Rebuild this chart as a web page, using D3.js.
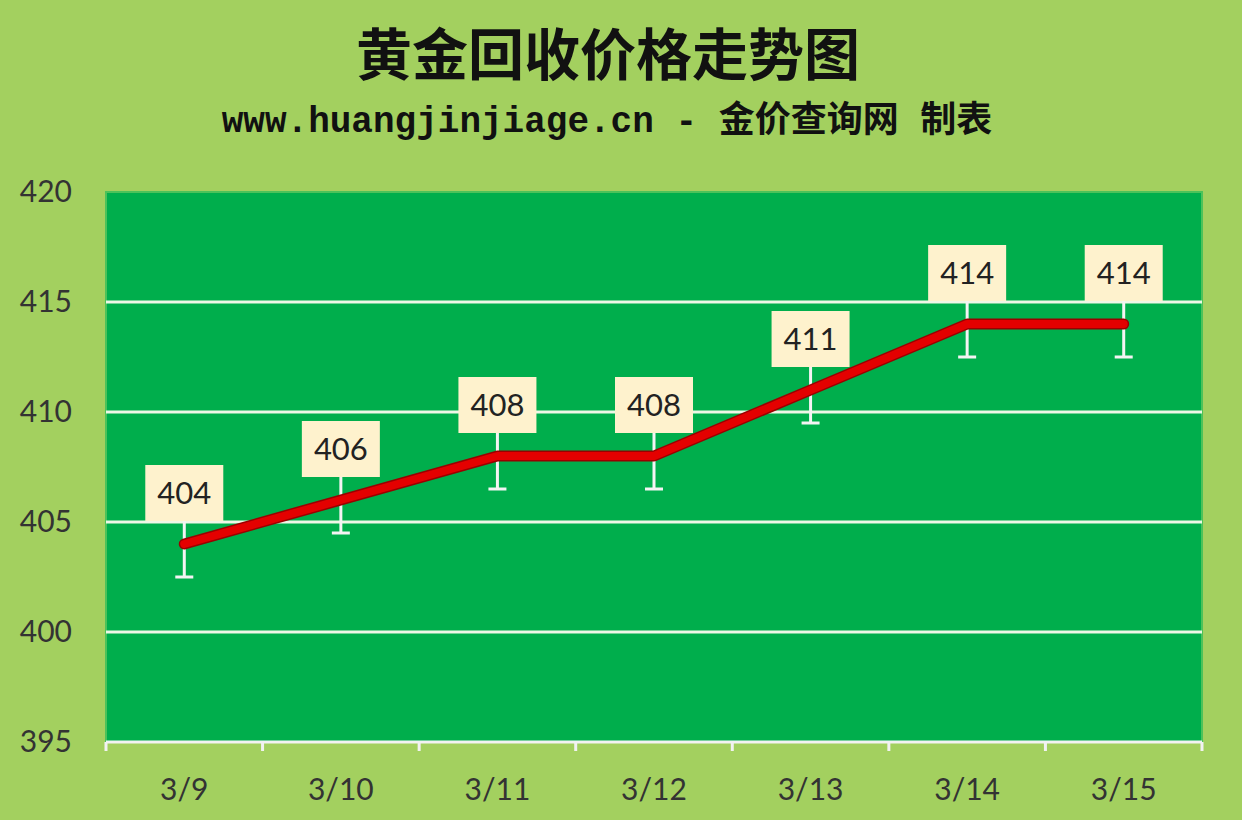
<!DOCTYPE html>
<html>
<head>
<meta charset="utf-8">
<script src="https://cdn.jsdelivr.net/npm/d3@7"></script>
<style>
  html, body { margin: 0; padding: 0; background: #a3d05f; }
  svg { display: block; }
</style>
</head>
<body>
<div id="chart"></div>
<script>
// chart data
const dates = ["3/9", "3/10", "3/11", "3/12", "3/13", "3/14", "3/15"];
const prices = [404, 406, 408, 408, 411, 414, 414];
const yTicks = [395, 400, 405, 410, 415, 420];
const errorAmount = 1.5;

const titleText = "黄金回收价格走势图";
const subtitleText = "www.huangjinjiage.cn - 金价查询网 制表";

const width = 1242, height = 820;
const margin = {top: 192, right: 40, bottom: 78, left: 106};

const svg = d3.select("#chart").append("svg")
    .attr("width", width)
    .attr("height", height);

svg.append("rect")
    .attr("width", width)
    .attr("height", height)
    .attr("fill", "#a3d05f");

// titles
svg.append("text")
    .attr("x", 608)
    .attr("y", 75)
    .attr("text-anchor", "middle")
    .attr("font-family", "'Noto Sans CJK SC', sans-serif")
    .attr("font-weight", "bold")
    .attr("font-size", 56)
    .attr("fill", "#111")
    .text(titleText);

svg.append("text")
    .attr("x", 607)
    .attr("y", 132)
    .attr("text-anchor", "middle")
    .attr("font-family", "'Liberation Mono', 'Noto Sans CJK SC', monospace")
    .attr("font-weight", "bold")
    .attr("font-size", 36)
    .attr("fill", "#111")
    .text(subtitleText);

// scales
let x = d3.scaleBand()
    .domain(dates)
    .range([margin.left, width - margin.right])
    .padding(0);

let y = d3.scaleLinear()
    .domain([395, 420])
    .range([height - margin.bottom, margin.top]);

// plot area
svg.append("rect")
    .attr("x", margin.left)
    .attr("y", margin.top)
    .attr("width", width - margin.right - margin.left)
    .attr("height", y(395) - margin.top)
    .attr("fill", "#00ae4c")
    .attr("stroke", "#4cc25a")
    .attr("stroke-width", 2);

// gridlines
svg.append("g")
    .selectAll("line")
    .data(yTicks.filter(d => d > 395 && d < 420))
    .enter().append("line")
    .attr("x1", margin.left)
    .attr("x2", width - margin.right)
    .attr("y1", d => y(d))
    .attr("y2", d => y(d))
    .attr("stroke", "#eef7e6")
    .attr("stroke-width", 3);

// y axis
let yAxis = svg.append("g")
    .attr("transform", "translate(72,0)")
    .call(d3.axisLeft(y).tickValues(yTicks).tickSize(0).tickPadding(0));
yAxis.select(".domain").remove();
yAxis.selectAll("text")
    .attr("font-family", "Lato, 'Open Sans', sans-serif")
    .attr("font-size", 30)
    .attr("fill", "#333");

// x axis
let boundaries = dates.map(d => x(d)).concat([x(dates[dates.length - 1]) + x.bandwidth()]);
let xAxisG = svg.append("g");
xAxisG.append("line")
    .attr("x1", margin.left)
    .attr("x2", width - margin.right)
    .attr("y1", y(395))
    .attr("y2", y(395))
    .attr("stroke", "#f2f2f2")
    .attr("stroke-width", 3);
xAxisG.selectAll(".tick-mark")
    .data(boundaries)
    .enter().append("line")
    .attr("class", "tick-mark")
    .attr("x1", d => d)
    .attr("x2", d => d)
    .attr("y1", y(395))
    .attr("y2", y(395) + 9)
    .attr("stroke", "#f2f2f2")
    .attr("stroke-width", 3);
xAxisG.selectAll(".x-label")
    .data(dates)
    .enter().append("text")
    .attr("class", "x-label")
    .attr("x", d => x(d) + x.bandwidth() / 2)
    .attr("y", 800)
    .attr("text-anchor", "middle")
    .attr("font-family", "Lato, 'Open Sans', sans-serif")
    .attr("font-size", 30)
    .attr("fill", "#333")
    .text(d => d);

let cx = i => x(dates[i]) + x.bandwidth() / 2;

// error bars
let bars = svg.append("g")
    .selectAll("g")
    .data(prices)
    .enter().append("g");
bars.append("line")
    .attr("x1", (d, i) => cx(i))
    .attr("x2", (d, i) => cx(i))
    .attr("y1", d => y(d - errorAmount))
    .attr("y2", d => y(d + errorAmount))
    .attr("stroke", "#f4f4f4")
    .attr("stroke-width", 3);
bars.append("line")
    .attr("x1", (d, i) => cx(i) - 9)
    .attr("x2", (d, i) => cx(i) + 9)
    .attr("y1", d => y(d - errorAmount))
    .attr("y2", d => y(d - errorAmount))
    .attr("stroke", "#f4f4f4")
    .attr("stroke-width", 3);

// price line
let line = d3.line()
    .x((d, i) => cx(i))
    .y(d => y(d));

svg.append("path")
    .datum(prices)
    .attr("d", line)
    .attr("fill", "none")
    .attr("stroke", "#9a0000")
    .attr("stroke-width", 11)
    .attr("stroke-linecap", "round")
    .attr("stroke-linejoin", "round");
svg.append("path")
    .datum(prices)
    .attr("d", line)
    .attr("fill", "none")
    .attr("stroke", "#e40000")
    .attr("stroke-width", 8)
    .attr("stroke-linecap", "round")
    .attr("stroke-linejoin", "round");

// data labels
let labels = svg.append("g")
    .selectAll("g")
    .data(prices)
    .enter().append("g")
    .attr("transform", (d, i) => `translate(${cx(i)},${y(d) - 51})`);
labels.append("rect")
    .attr("x", -39)
    .attr("y", -28)
    .attr("width", 78)
    .attr("height", 56)
    .attr("fill", "#fef2cd");
labels.append("text")
    .attr("text-anchor", "middle")
    .attr("dy", "0.36em")
    .attr("font-family", "Lato, 'Open Sans', sans-serif")
    .attr("font-size", 31)
    .attr("fill", "#222")
    .text(d => d);
</script>
</body>
</html>
